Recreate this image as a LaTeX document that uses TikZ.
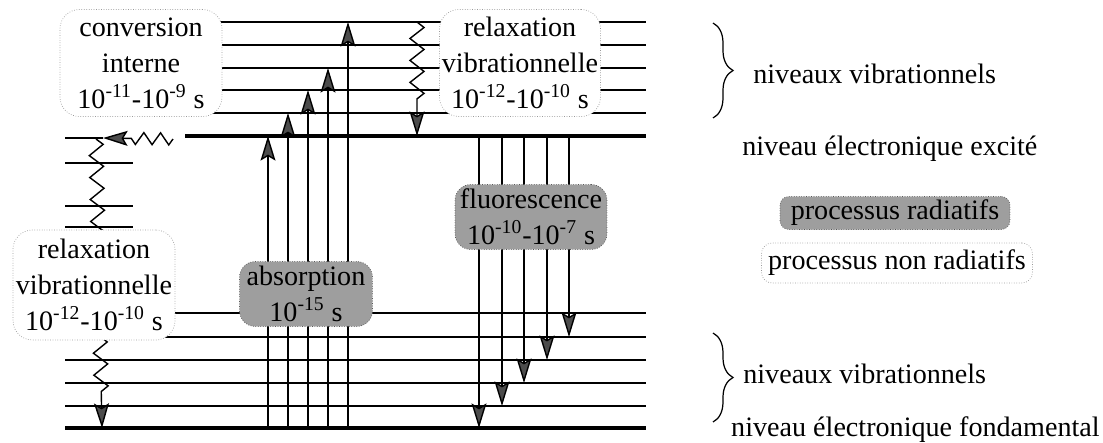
\documentclass[tikz,border=0pt]{standalone}
\usepackage{fontspec}
\setmainfont{Liberation Serif}
\usetikzlibrary{arrows.meta,decorations.pathmorphing,decorations.pathreplacing}

\begin{document}
\begin{tikzpicture}[
    x=0.02cm, y=-0.02cm,
    font=\fontsize{16}{20.5}\selectfont,
    level/.style={line width=0.8pt},
    mainlevel/.style={line width=2.2pt},
    tip/.style={-{Stealth[length=14pt, width=8.5pt, inset=2.5pt, fill=black!70]}},
    radiatif/.style={
        rectangle, draw=black!65, densely dotted, fill=black!38,
        rounded corners=9pt, align=center, inner sep=1pt
    },
    nonradiatif/.style={
        rectangle, draw=black!40, densely dotted, fill=white,
        rounded corners=11pt, align=center, inner sep=1pt
    },
    vzig/.style={level, tip, decorate,
        decoration={zigzag, segment length=12.5pt, amplitude=4pt, post length=15pt}},
    hzig/.style={level, tip, decorate,
        decoration={zigzag, segment length=9.5pt, amplitude=3.4pt, post length=15pt}},
    accolade/.style={line width=0.7pt, decorate,
        decoration={brace, amplitude=0.4cm}},
    legende/.style={anchor=base west, inner sep=0pt}
]
\useasboundingbox (0,0) rectangle (1103,443);

\coordinate (e0) at (185,136);
\draw[mainlevel] (e0) -- (646,136);
\foreach \n/\y in {1/113,2/90,3/68,4/45,5/22}{
    \coordinate (e\n) at (185,\y);
    \draw[level] (e\n) -- (646,\y);
}
\coordinate (g0) at (65,428);
\draw[mainlevel] (g0) -- (646,428);
\foreach \n/\y in {1/406,2/383,3/360,4/337,5/313}{
    \coordinate (g\n) at (65,\y);
    \draw[level] (g\n) -- (646,\y);
}
\coordinate (h0) at (103,138);
\draw[level] (65,138) -- (h0);
\foreach \n/\y in {1/163,2/206,3/227}{
    \coordinate (h\n) at (65,\y);
    \draw[level] (h\n) -- (133,\y);
}

\foreach \x/\n in {268/0,288/1,308/2,328/3,348/5}
    \draw[level, tip] (\x,0 |- g0) -- (\x,0 |- e\n);
\foreach \x/\n in {479/0,502/1,524/2,547/3,569/4}
    \draw[level, tip] (\x,0 |- e0) -- (\x,0 |- g\n);

\coordinate (ci) at (173,139);
\draw[hzig] (ci) -- (h0);
\coordinate (rvg) at (102,428);
\draw[vzig] (96,139) -- (rvg);
\coordinate (rvh) at (417,22);
\draw[vzig] (rvh) -- (417,136);

\node[nonradiatif, minimum width=3.24cm, minimum height=2.14cm] (conv) at (141,63)
    {conversion\\interne\\10\textsuperscript{-11}-10\textsuperscript{-9} s};
\node[nonradiatif, minimum width=3.22cm, minimum height=2.14cm] (relaxh) at (520,63)
    {relaxation\\vibrationnelle\\10\textsuperscript{-12}-10\textsuperscript{-10} s};
\node[nonradiatif, minimum width=3.24cm, minimum height=2.2cm] (relaxb) at (94,285)
    {relaxation\\vibrationnelle\\10\textsuperscript{-12}-10\textsuperscript{-10} s};
\node[radiatif, minimum width=2.66cm, minimum height=1.3cm] (abso) at (306,294)
    {absorption\\10\textsuperscript{-15} s};
\node[radiatif, minimum width=3.04cm, minimum height=1.3cm] (fluo) at (531,217)
    {fluorescence\\10\textsuperscript{-10}-10\textsuperscript{-7} s};

\draw[accolade] (713,23) -- (713,118);
\draw[accolade] (713,333) -- (713,422);
\node[legende] (vibh) at (753,83) {niveaux vibrationnels};
\node[legende] (exc) at (742,155) {niveau électronique excité};
\node[legende] (vibb) at (743,383) {niveaux vibrationnels};
\node[legende, anchor=base east] (fond) at (1100,436) {niveau électronique fondamental};
\node[radiatif, rounded corners=5pt, minimum width=4.6cm, minimum height=0.66cm] (rad) at (895,213)
    {processus radiatifs};
\node[nonradiatif, rounded corners=6pt, minimum width=5.42cm, minimum height=0.8cm] (nrad) at (897,263)
    {processus non radiatifs};

\end{tikzpicture}
\end{document}
